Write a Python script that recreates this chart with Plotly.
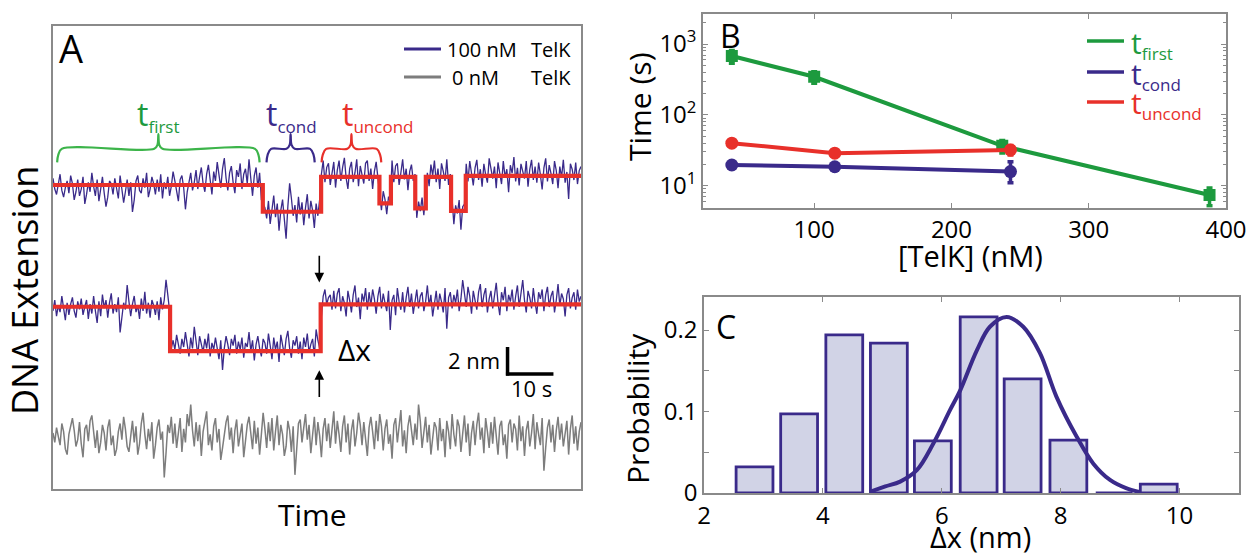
import numpy as np
import plotly.graph_objects as go

# ---------------- Panel A data (time in s, extension in nm) ----------------
top_step_times = [45.7, 58.4, 71.1, 73.6, 78.9, 81.2, 86.7, 89.9]
top_step_levels = [22.52, 20.54, 23.13, 21.16, 23.13, 20.79, 23.13, 20.61, 23.19]
mid_step_times = [25.5, 58.3]
mid_step_levels = [13.50, 10.22, 13.68]
gray_level = 3.85
trace_duration = 115.0

# residual noise around the fitted steps, tenths of nm
top_resid = [5, -3, -7, 2, 8, -4, -9, -2, 3, -6, 7, 1, -11, -5, 4, -8, -3, 6, -14, -7,
             2, -5, 9, -1, -8, 4, -12, -3, 6, -6, -16, -9, 3, 1, -7, 5, -4, -10, 7, -2,
             -13, -5, 4, -8, 2, -20, -11, 3, 7, -4, -6, 5, -2, 9, -9, -3, 6, 1, -7, 4,
             -5, 8, -10, 2, -3, 6, -8, -1, 10, 3, -6, -12, 4, 7, -2, -18, -5, 3, 9, -4,
             2, 11, -3, 6, 13, 1, -5, 8, 15, 4, -7, 10, 3, 17, 7, -2, 12, 20, 5, -4,
             9, 14, 2, -6, 11, 6, 16, -3, 8, 12, 1, 19, 5, -8, 7, 13, -2, 9, -11, 6,
             3, -5, 8, -9, 2, 12, -4, 6, -14, 1, 9, -7, -20, 4, 21, 10, -3, 5, -8, 11,
             -2, 7, -10, 3, 13, -5, 8, 1, -12, 6, -3, 9, 2, 12, -4, 7, 10, -6, 3, 11,
             -8, 5, 12, -3, 7, 14, -1, -9, 6, 11, -4, 3, 13, -7, 8, 2, -5, 10, 12, -3,
             6, -9, 4, 11, -2, 7, -5, 9, 3, -8, 5, 1, 12, -4, 8, 10, -6, 3, 13, -2,
             6, -10, 4, 9, -3, 2, -7, 5, -2, 8, -5, 11, 3, -7, 9, 1, 12, -4, 6, -9,
             10, 4, -3, 13, -6, 2, 7, -10, 4, -2, 8, -14, 3, 5, 9, -4, 11, 2, -7, 6,
             12, -3, 5, -8, 9, 1, -5, 13, 4, -2, 7, -9, 10, 3, -6, 11, -1, 5, -12, 8,
             2, 14, -4, 6, -7, 9, 3, -2, 11, -8, 5, 12, -3, 7, -5, 10, 1, -10, 6, 13,
             -4, 8, 2, -6, 11, 4, -9, 7, -1, 12, -5, 3, -17, 9, 5, -3, 10, -6, 4, 7]
mid_resid = [-3, 5, -7, 1, -4, 8, -1, -10, 3, -6, 2, 7, -3, -8, 4, -2, 6, -6, 0, 5,
             -9, 2, -5, 8, -3, -12, 4, -7, 9, -1, 5, -8, 3, 10, -5, 2, -4, 7, -19, -6,
             3, -2, 16, 4, -7, 2, 8, -4, 1, -9, 6, -3, 11, -5, 3, -8, 5, 1, -6, 4,
             -10, 7, -2, 5, 20, 9, -3, 2, 8, 1, 12, 5, -2, 9, 3, 14, 6, -4, 10, 2,
             18, 7, -3, 11, 4, -1, 9, 2, 13, -4, 6, 1, 10, 3, -6, 8, -14, 2, 11, 5,
             -3, 9, 4, 12, -2, 7, 1, 10, -5, 6, 3, 14, 0, 8, -7, 5, 11, 2, -4, 9,
             6, -2, 13, 4, -6, 10, 1, 7, -8, 12, 3, -3, 9, 15, 2, -5, 8, 4, 11, -2,
             7, -6, 10, 3, 13, -1, 5, 9, -4, 16, 8, 2, -9, 6, 11, 0, 5, 7, -4, 10,
             -3, 8, 12, -5, 6, 1, -9, 10, 3, -6, 7, 14, -2, 5, -11, 8, 2, 12, -4, 9,
             -1, 11, 4, -7, 6, 13, -3, 8, 1, -5, 10, -19, 3, 7, -8, 12, 2, -4, 9, -6,
             5, 13, -2, 8, -7, 4, 11, -3, 6, 9, -5, 2, 14, -1, 7, -9, 3, 10, -4, 8,
             2, -6, 12, -18, 5, 9, -3, 7, 1, 11, -5, 4, 18, 8, -2, 13, 6, -7, 10, 3,
             -4, 9, 15, -2, 7, 12, -6, 4, 10, -3, 6, 16, 1, -8, 9, 3, 13, -5, 7, 2,
             11, -4, 6, 14, -2, 8, 18, 3, -6, 10, 5, -3, 12, 1, -7, 9, 4, 11, -5, 7,
             13, -2, 6, 10, -6, 3, 15, -1, 8, 4, -9, 7, 12, -3, 5, 9, -4, 11, 2, 6]
gray_resid = [3, -4, 7, 1, -6, 10, 4, -9, -13, 2, 8, 14, 5, -7, -2, 11, -5, -15, 6, 9,
              -3, 12, 16, 2, -8, 5, -12, -4, 9, 3, -10, 7, 13, -6, 1, -14, -9, 4, 10, -2,
              15, 6, -7, -11, 3, 12, -4, 8, -13, -5, 10, 18, 2, -9, 6, -3, 11, -16, -6, 7,
              13, -2, 4, -30, -12, 9, 3, 15, -5, 10, -8, 2, 14, -11, 6, -4, 17, 8, 24, 5,
              -7, 11, -3, 9, -14, 4, 12, 19, -6, 2, -10, 8, 14, -4, 6, -17, -8, 3, 11, 16,
              -2, 7, -12, 5, 13, -7, 1, 10, -15, -3, 9, 15, 4, -9, 12, -5, 7, -13, 2, 18,
              6, -8, 11, -3, 14, -10, 4, 16, -6, 9, 2, -14, -7, 12, 5, -11, 8, -28, -9, 10,
              13, -4, 7, 17, -2, 9, -12, 3, 15, -6, 11, 1, -15, 6, 14, -3, 10, -8, 4, 19,
              -5, 12, 2, -11, 8, 16, -4, 10, -13, 5, 13, -7, 3, 18, 9, -6, 11, -2, -14, 7,
              15, 4, -9, 12, -3, 17, 8, -10, 6, 13, -5, 2, -16, 9, 14, -4, 11, 20, -7, 5,
              -12, 8, 16, 3, -6, 10, -2, 24, 12, -8, 5, 15, -4, 9, -13, 2, 11, 7, -10, 14,
              -3, 6, -15, 12, 4, -9, 17, 2, -7, 13, 8, -11, 5, 16, -4, 10, -14, 3, 12, -6,
              9, 18, -2, 7, -12, 14, 4, -8, 11, -5, 15, 3, -13, 8, 12, -6, 2, -16, 9, 13,
              -4, 10, 6, -10, 16, -3, 8, -14, 5, 12, -7, 3, 17, -9, 11, 2, -6, 14, -25, -8,
              7, 13, -4, 9, -11, 5, 15, -2, 10, -7, 3, 12, -13, 6, 16, -5, 8, -10, 4, 11]

bracket_start = [0.9, 46.5, 58.5]
bracket_end = [45.0, 57.0, 71.5]
scalebar_time = 10.0
scalebar_ext = 2.0
legend_a_labels = [("100 nM", "TelK"), ("0 nM", "TelK")]

# ---------------- Panel B data ----------------
conc_first = [40, 100, 237, 388]
time_first = [677, 345, 36.5, 7.4]
first_err_plus = [130, 60, 7, 1.9]
first_err_minus = [140, 65, 7.5, 2.2]
conc_cond = [40, 115, 243]
time_cond = [19.6, 18.5, 15.8]
cond_err_plus = [1.5, 1.5, 6.0]
cond_err_minus = [1.5, 1.5, 4.8]
conc_uncond = [40, 115, 243]
time_uncond = [39.8, 28.8, 32.0]
uncond_err_plus = [3, 3, 5]
uncond_err_minus = [3, 3, 5]
legend_b_labels = ["first", "cond", "uncond"]

# ---------------- Panel C data ----------------
dx_centers = [2.85, 3.60, 4.36, 5.11, 5.85, 6.62, 7.36, 8.13, 8.90, 9.65]
dx_prob = [0.032, 0.097, 0.194, 0.184, 0.064, 0.216, 0.140, 0.065, 0.0, 0.011]
fit_x = [4.79, 5.05, 5.30, 5.58, 5.86, 6.14, 6.31, 6.59, 6.81, 7.09, 7.37, 7.65, 7.93, 8.27, 8.55, 8.83, 9.10, 9.34]
fit_y = [0.0015, 0.008, 0.014, 0.028, 0.061, 0.102, 0.126, 0.175, 0.204, 0.216, 0.204, 0.172, 0.118, 0.069, 0.036, 0.016, 0.006, 0.001]

# ---------------- styling ----------------
FONT = "Open Sans"
GREEN = "#1d9a3e"
GREEN_BR = "#3cb44a"
BLUE = "#3a2a8a"
RED = "#e8302a"
GRAY = "#7d7d7d"
FRAME = "#8a8a8a"
W, H = 1251, 558


def px_x(p):
    return p / W


def px_y(p):
    return 1 - p / H


def step_values(t, times, levels):
    idx = np.searchsorted(np.array(times), t, side="right")
    return np.array(levels)[idx]


fig = go.Figure()

# ---- Panel A traces ----
t_top = np.linspace(0, trace_duration, len(top_resid))
y_top = step_values(t_top, top_step_times, top_step_levels) + np.array(top_resid) / 10.0
t_mid = np.linspace(0, trace_duration, len(mid_resid))
y_mid = step_values(t_mid, mid_step_times, mid_step_levels) + np.array(mid_resid) / 10.0
t_gray = np.linspace(0, trace_duration, len(gray_resid))
y_gray = gray_level + np.array(gray_resid) / 10.0

for tt, yy, c, w in [(t_top, y_top, BLUE, 1.3), (t_mid, y_mid, BLUE, 1.3), (t_gray, y_gray, GRAY, 1.5)]:
    fig.add_trace(go.Scatter(x=tt, y=yy, mode="lines", line=dict(color=c, width=w),
                             showlegend=False, xaxis="x", yaxis="y"))
for times, levels in [(top_step_times, top_step_levels), (mid_step_times, mid_step_levels)]:
    fig.add_trace(go.Scatter(x=[0] + list(times) + [trace_duration], y=list(levels) + [levels[-1]],
                             mode="lines", line=dict(color=RED, width=4.2, shape="hv"),
                             showlegend=False, xaxis="x", yaxis="y"))

# brackets
br_end_y, br_main_y, br_peak_y = 24.2, 25.2, 26.3
for s, e, c in zip(bracket_start, bracket_end, [GREEN_BR, BLUE, RED]):
    m = (s + e) / 2
    bx = [s, s + 0.25, s + 1.0, m - 0.9, m - 0.2, m, m + 0.2, m + 0.9, e - 1.0, e - 0.25, e]
    by = [br_end_y, br_main_y - 0.45, br_main_y, br_main_y, br_main_y + 0.3, br_peak_y,
          br_main_y + 0.3, br_main_y, br_main_y, br_main_y - 0.45, br_end_y]
    fig.add_trace(go.Scatter(x=bx, y=by, mode="lines", line=dict(color=c, width=2.2, shape="spline"),
                             showlegend=False, xaxis="x", yaxis="y"))

# ---- Panel B traces ----
for xs, ys, ep, em, c, sym, ms in [
    (conc_first, time_first, first_err_plus, first_err_minus, GREEN, "square", 12),
    (conc_uncond, time_uncond, uncond_err_plus, uncond_err_minus, RED, "circle", 13),
    (conc_cond, time_cond, cond_err_plus, cond_err_minus, BLUE, "circle", 13),
]:
    fig.add_trace(go.Scatter(x=xs, y=ys, mode="lines+markers",
                             line=dict(color=c, width=4),
                             marker=dict(color=c, size=ms, symbol=sym),
                             error_y=dict(type="data", array=ep, arrayminus=em, color=c,
                                          thickness=3.5, width=3),
                             showlegend=False, xaxis="x2", yaxis="y2"))

# ---- Panel C traces ----
fig.add_trace(go.Bar(x=dx_centers, y=dx_prob, width=0.62,
                     marker=dict(color="#d1d3e6", line=dict(color=BLUE, width=2.8)),
                     showlegend=False, xaxis="x3", yaxis="y3"))
fig.add_trace(go.Scatter(x=fit_x, y=fit_y, mode="lines", line=dict(color=BLUE, width=4, shape="spline"),
                         showlegend=False, xaxis="x3", yaxis="y3"))

axis_common = dict(showline=True, linecolor=FRAME, linewidth=1.5, mirror="ticks", ticks="inside",
                   tickcolor=FRAME, ticklen=5, tickwidth=1.2, showgrid=False, zeroline=False,
                   automargin=False, tickfont=dict(family=FONT, size=24, color="black"))

fig.update_layout(
    width=W, height=H, autosize=False, margin=dict(l=0, r=0, t=0, b=0, autoexpand=False),
    paper_bgcolor="white", plot_bgcolor="white",
    font=dict(family=FONT, color="black"),
    showlegend=False,
    xaxis=dict(domain=[px_x(53), px_x(581)], range=[0, trace_duration], showline=True, linecolor=FRAME,
               linewidth=1.5, mirror=True, ticks="", showticklabels=False, showgrid=False, zeroline=False),
    yaxis=dict(domain=[px_y(489), px_y(26)], range=[0, 34.3], showline=True, linecolor=FRAME,
               linewidth=1.5, mirror=True, ticks="", showticklabels=False, showgrid=False, zeroline=False),
    xaxis2=dict(axis_common, domain=[px_x(703), px_x(1226)], range=[19, 400],
                tickvals=[100, 200, 300, 400], anchor="y2"),
    yaxis2=dict(axis_common, domain=[px_y(207.7), px_y(14)], type="log", range=[0.689, 3.424],
                tickvals=[10, 100, 1000], ticktext=["10<sup>1</sup>", "10<sup>2</sup>", "10<sup>3</sup>"],
                minor=dict(ticks="inside", ticklen=3, tickcolor=FRAME, dtick="D1"), anchor="x2"),
    xaxis3=dict(axis_common, domain=[px_x(704), px_x(1239)], range=[2, 11],
                tickvals=[2, 4, 6, 8, 10], anchor="y3"),
    yaxis3=dict(axis_common, domain=[px_y(493), px_y(297)], range=[0, 0.2405],
                tickvals=[0, 0.05, 0.1, 0.15, 0.2], ticktext=["0", "", "0.1", "", "0.2"], anchor="x3"),
)

ann = []
shapes = []


def ptext(x, y, text, size, angle=0, xa="center", ya="middle", color="black"):
    ann.append(dict(x=px_x(x), y=px_y(y), xref="paper", yref="paper", text=text, showarrow=False,
                    textangle=angle, xanchor=xa, yanchor=ya,
                    font=dict(family=FONT, size=size, color=color)))


# panel letters and titles
ptext(57, 48, "A", 38, xa="left")
ptext(718, 36, "B", 32, xa="left")
ptext(714, 326, "C", 32, xa="left")
ptext(24, 291, "DNA Extension", 36, angle=-90)
ptext(312, 514, "Time", 30)
ptext(640, 107, "Time (s)", 30, angle=-90)
ptext(970, 255, "[TelK] (nM)", 29)
ptext(637, 409, "Probability", 30, angle=-90)
ptext(980, 558, "\u0394x (nm)", 29, ya="bottom")

# legend A (line swatches + labels)
for (lab1, lab2), yy, c in zip(legend_a_labels, [49, 77], [BLUE, GRAY]):
    shapes.append(dict(type="line", xref="paper", yref="paper", x0=px_x(404), x1=px_x(441),
                       y0=px_y(yy), y1=px_y(yy), line=dict(color=c, width=3)))
    ptext(445 if lab1.startswith("1") else 450, yy, lab1, 20, xa="left")
    ptext(529, yy, lab2, 20, xa="left")

# legend B
for lab, yy, c in zip(legend_b_labels, [41, 72, 102], [GREEN, BLUE, RED]):
    shapes.append(dict(type="line", xref="paper", yref="paper", x0=px_x(1087), x1=px_x(1124),
                       y0=px_y(yy), y1=px_y(yy), line=dict(color=c, width=3.5)))
    ptext(1129, yy + 2, f"t<sub><span style='font-size:17px'>{lab}</span></sub>", 30, xa="left", color=c)


def dtext(x, y, text, size, xa="center", ya="middle", color="black"):
    ann.append(dict(x=x, y=y, xref="x", yref="y", text=text, showarrow=False, xanchor=xa, yanchor=ya,
                    font=dict(family=FONT, size=size, color=color)))


def sub_lbl(s):
    return f"t<sub><span style='font-size:17px'>{s}</span></sub>"


dtext(17.8, 27.7, sub_lbl("first"), 32, xa="left", color=GREEN)
dtext(46.0, 27.7, sub_lbl("cond"), 32, xa="left", color=BLUE)
dtext(62.6, 27.7, sub_lbl("uncond"), 32, xa="left", color=RED)
dtext(65.6, 10.3, "\u0394x", 30)
dtext(97.8, 9.55, "2 nm", 22, xa="right")
dtext(104.3, 7.45, "10 s", 22)

# arrows
for (hx, hy, tx, ty) in [(58.0, 15.3, 58.0, 17.4), (58.0, 8.8, 58.0, 6.7)]:
    ann.append(dict(x=hx, y=hy, ax=tx, ay=ty, xref="x", yref="y", axref="x", ayref="y", text="",
                    showarrow=True, arrowhead=2, arrowsize=1.2, arrowwidth=1.6, arrowcolor="black",
                    standoff=0, startstandoff=0))

# scale bar
sb_x0, sb_y0 = 99.0, 8.52
shapes.append(dict(type="line", xref="x", yref="y", x0=sb_x0, x1=sb_x0, y0=sb_y0 - 0.12,
                   y1=sb_y0 + scalebar_ext, line=dict(color="black", width=3.5)))
shapes.append(dict(type="line", xref="x", yref="y", x0=sb_x0 - 0.35, x1=sb_x0 + scalebar_time,
                   y0=sb_y0, y1=sb_y0, line=dict(color="black", width=3.5)))

fig.update_layout(annotations=ann, shapes=shapes)

fig.write_html("out.html", config={"responsive": False})
